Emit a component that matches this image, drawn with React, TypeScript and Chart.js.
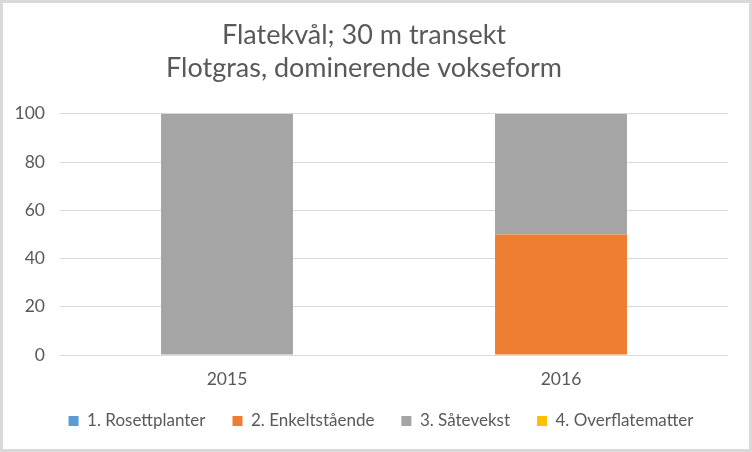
import React, { useEffect, useRef } from "react";
import { Chart, registerables } from "chart.js";

Chart.register(...registerables);

const categories = ["2015", "2016"];
const seriesNames = [
  "1. Rosettplanter",
  "2. Enkeltstående",
  "3. Såtevekst",
  "4. Overflatematter",
];
const rosettplanter = [0, 0];
const enkeltstaende = [0, 50];
const satevekst = [100, 50];
const overflatematter = [0, 0];
const seriesColors = ["#5B9BD5", "#ED7D31", "#A5A5A5", "#FFC000"];
const titleLines = ["Flatekvål; 30 m transekt", "Flotgras, dominerende vokseform"];
const yMin = 0;
const yMax = 100;
const yStep = 20;

const FONT = "Lato";
const TEXT = "#595959";

const frame = {
  id: "frame",
  beforeDraw(chart: any) {
    const { ctx, width, height } = chart;
    ctx.save();
    ctx.fillStyle = "#ffffff";
    ctx.fillRect(0, 0, width, height);
    ctx.strokeStyle = "#D9D9D9";
    ctx.lineWidth = 3;
    ctx.strokeRect(1.5, 1.5, width - 3, height - 3);
    ctx.restore();
  },
};

const legendShift = {
  id: "legendShift",
  afterLayout(chart: any) {
    const lg = chart.legend;
    if (lg) {
      lg.left += 17;
      lg.right += 17;
      lg.top -= 9.5;
      lg.bottom -= 9.5;
    }
  },
};

export default function App() {
  const ref = useRef<HTMLCanvasElement | null>(null);
  useEffect(() => {
    if (!ref.current) return;
    const values = [rosettplanter, enkeltstaende, satevekst, overflatematter];
    const chart = new Chart(ref.current, {
      type: "bar",
      data: {
        labels: categories,
        datasets: seriesNames.map((name, i) => ({
          label: name,
          data: values[i],
          backgroundColor: seriesColors[i],
          borderWidth: 0,
          barPercentage: 0.395,
          categoryPercentage: 1,
        })),
      },
      options: {
        responsive: false,
        animation: false,
        layout: { padding: { top: 0, left: 0, right: 24, bottom: 3 } },
        plugins: {
          title: {
            display: true,
            text: titleLines,
            color: TEXT,
            font: { family: FONT, size: 27, weight: "normal", lineHeight: 1.2 },
            padding: { top: 19.25, bottom: 29.75 },
          },
          legend: {
            position: "bottom",
            labels: {
              color: TEXT,
              font: { family: FONT, size: 17 },
              boxWidth: 10,
              boxHeight: 10,
              padding: 27,
            },
          },
          tooltip: { enabled: false },
        },
        scales: {
          x: {
            stacked: true,
            grid: { display: false, drawTicks: false },
            border: { display: false },
            ticks: { color: TEXT, font: { family: FONT, size: 17.5 }, padding: 14 },
            afterFit(scale: any) {
              scale.height = 40;
            },
          },
          y: {
            stacked: true,
            min: yMin,
            max: yMax,
            ticks: { stepSize: yStep, color: TEXT, font: { family: FONT, size: 17.5 }, padding: 15 },
            grid: { color: "#D9D9D9", lineWidth: 1, drawTicks: false },
            border: { display: false },
            afterFit(scale: any) {
              scale.width = 60;
            },
          },
        },
      },
      plugins: [frame, legendShift],
    });
    return () => chart.destroy();
  }, []);
  return (
    <div style={{ position: "absolute", left: 0, top: 0, width: 752, height: 452 }}>
      <canvas ref={ref} width={752} height={452} />
    </div>
  );
}
